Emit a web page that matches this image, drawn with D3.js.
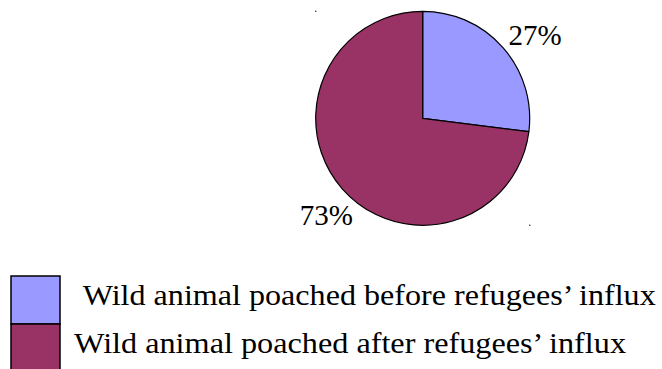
<!DOCTYPE html>
<html>
<head>
<meta charset="utf-8">
<script src="https://cdn.jsdelivr.net/npm/d3@7/dist/d3.min.js"></script>
<style>
  html, body { margin: 0; padding: 0; background: #fff; }
  svg { display: block; }
</style>
</head>
<body>
<svg id="chart" width="662" height="369"></svg>
<script>
// Poaching share before / after the refugee influx
const categories = [
  "Wild animal poached before refugees\u2019 influx",
  "Wild animal poached after refugees\u2019 influx"
];
const values = [27, 73];
const colors = ["#9999ff", "#993366"];

const width = 662, height = 369;
const cx = 422.7, cy = 118.3, radius = 107;
const FONT = "Liberation Serif";

const svg = d3.select("#chart");

const pie = d3.pie().sort(null).value(d => d.value);
const arcs = pie(categories.map((c, i) => ({ name: c, value: values[i], color: colors[i] })));
const total = d3.sum(values);

const arc = d3.arc().innerRadius(0).outerRadius(radius);
const labelArc = d3.arc().innerRadius(139).outerRadius(139);

const g = svg.append("g").attr("transform", `translate(${cx},${cy})`);

g.selectAll("path.slice")
  .data(arcs)
  .join("path")
  .attr("class", "slice")
  .attr("d", arc)
  .attr("fill", d => d.data.color)
  .attr("stroke", "#000")
  .attr("stroke-width", 1.2)
  .attr("stroke-linejoin", "round");

// percentage labels outside the slices
g.selectAll("text.pct")
  .data(arcs)
  .join("text")
  .attr("class", "pct")
  .attr("transform", d => {
    const [x, y] = labelArc.centroid(d);
    return `translate(${x + 8},${y + (y < 0 ? 8 : 5)})`;
  })
  .attr("text-anchor", "middle")
  .attr("dy", "0.35em")
  .attr("font-family", FONT)
  .attr("font-size", 29)
  .attr("fill", "#000")
  .text(d => Math.round(d.data.value / total * 100) + "%");

// tiny corner marks of the plot box
[[-radius, -radius], [radius, radius]].forEach(([x, y]) => {
  g.append("rect")
    .attr("x", x - 0.7).attr("y", y - 0.7)
    .attr("width", 1.4).attr("height", 1.4)
    .attr("fill", "#444");
});

// legend
const legend = svg.append("g");
const boxX = 11, boxY = 276, boxW = 49, boxH = 48;
const textX = [82.7, 74];
const textLen = [573, 552];

legend.selectAll("rect.key")
  .data(arcs)
  .join("rect")
  .attr("class", "key")
  .attr("x", boxX)
  .attr("y", (d, i) => boxY + i * boxH)
  .attr("width", boxW)
  .attr("height", boxH)
  .attr("fill", d => d.data.color)
  .attr("stroke", "#000")
  .attr("stroke-width", 1.5);

legend.selectAll("text.key")
  .data(arcs)
  .join("text")
  .attr("class", "key")
  .attr("x", (d, i) => textX[i])
  .attr("y", (d, i) => boxY + i * boxH + 29)
  .attr("font-family", FONT)
  .attr("font-size", 29)
  .attr("fill", "#000")
  .attr("textLength", (d, i) => textLen[i])
  .attr("lengthAdjust", "spacingAndGlyphs")
  .text(d => d.data.name);
</script>
</body>
</html>
